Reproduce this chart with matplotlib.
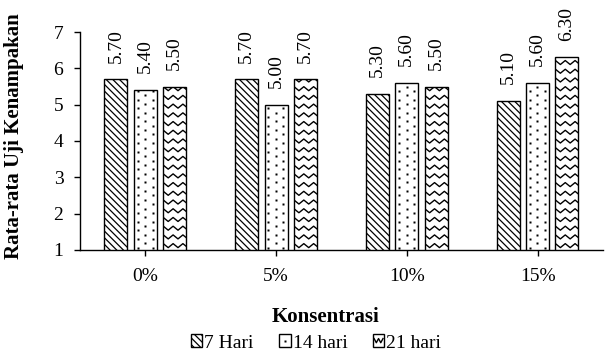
import matplotlib
matplotlib.use('Agg')
import matplotlib.pyplot as plt
import numpy as np
from matplotlib.patches import Rectangle
from matplotlib.lines import Line2D
from matplotlib.legend_handler import HandlerPatch

plt.rcParams['font.family'] = ['Liberation Serif', 'DejaVu Serif']
plt.rcParams['hatch.linewidth'] = 0.9

# Data
categories = ['0%', '5%', '10%', '15%']
series_names = ['7 Hari', '14 hari', '21 hari']
hari_7 = [5.70, 5.70, 5.30, 5.10]
hari_14 = [5.40, 5.00, 5.60, 5.60]
hari_21 = [5.50, 5.70, 5.50, 6.30]

fig = plt.figure(figsize=(6.09, 3.58), dpi=100)
ax = fig.add_axes([0.1314, 0.3017, 0.8586, 0.6089])

x = np.arange(len(categories))
width = 0.176
step = 0.225


def wave_lines(ax, x0, x1, y0, y1, clip, period=0.075, amp=0.055, gap=0.24):
    # zigzag fill drawn row by row, clipped to the bar outline
    xs = np.arange(x0 - period, x1 + period, period / 2)
    ys_off = np.where(np.arange(len(xs)) % 2 == 0, amp, -amp)
    yy = y0 + gap / 2
    while yy < y1 + gap:
        ln, = ax.plot(xs, yy + ys_off, color='black', lw=1.0)
        ln.set_clip_path(clip)
        yy += gap


def dot_fill(ax, x0, x1, y0, y1, clip, dx=0.057, dy=0.24):
    # staggered dot lattice, clipped to the bar outline
    pts_x, pts_y = [], []
    cols = np.arange(x0 + dx / 2, x1, dx)
    for i, cx in enumerate(cols):
        start = y0 + (dy / 4 if i % 2 == 0 else 3 * dy / 4)
        for cy in np.arange(start, y1, dy):
            pts_x.append(cx)
            pts_y.append(cy)
    m, = ax.plot(pts_x, pts_y, ls='none', marker='s', ms=2.0,
                 mfc='black', mec='none')
    m.set_clip_path(clip)


bars7 = ax.bar(x - step, hari_7, width, facecolor='white', edgecolor='black',
               linewidth=1.0, hatch='\\\\\\\\\\', label=series_names[0])
bars14 = ax.bar(x, hari_14, width, facecolor='white', edgecolor='black',
                linewidth=1.0, label=series_names[1])
bars21 = ax.bar(x + step, hari_21, width, facecolor='white', edgecolor='black',
                linewidth=1.0, label=series_names[2])

for b in bars14:
    dot_fill(ax, b.get_x(), b.get_x() + b.get_width(), 1.0, b.get_height(), b)
for b in bars21:
    wave_lines(ax, b.get_x(), b.get_x() + b.get_width(), 1.0, b.get_height(), b)

for bars, vals in [(bars7, hari_7), (bars14, hari_14), (bars21, hari_21)]:
    for b, v in zip(bars, vals):
        ax.annotate(f'{v:.2f}', (b.get_x() + b.get_width() / 2, v),
                    xytext=(0, 12), textcoords='offset points',
                    rotation=90, ha='center', va='bottom', fontsize=14)

ax.set_xlim(-0.5, 3.5)
ax.set_ylim(1, 7)
ax.set_yticks(range(1, 8))
ax.set_xticks(x)
ax.set_xticklabels(categories)
ax.tick_params(axis='both', labelsize=14, direction='out', length=4, width=1)
ax.tick_params(axis='x', pad=9)
ax.tick_params(axis='y', pad=8)
ax.spines['top'].set_visible(False)
ax.spines['right'].set_visible(False)
for s in ['left', 'bottom']:
    ax.spines[s].set_linewidth(1.0)

fig.text(14 / 609, 0.619, 'Rata-rata Uji Kenampakan', rotation=90,
         ha='center', va='center', fontsize=15, fontweight='bold')
fig.text(325 / 609, 1 - 317 / 358, 'Konsentrasi', ha='center', va='center',
         fontsize=15, fontweight='bold')


class DotHandler(HandlerPatch):
    def create_artists(self, legend, orig_handle, xdescent, ydescent,
                       width, height, fontsize, trans):
        rect = Rectangle((-xdescent, -ydescent), width, height,
                         facecolor='white', edgecolor='black', lw=1.0,
                         transform=trans)
        dot = Line2D([-xdescent + width / 2], [-ydescent + height / 2],
                     ls='none', marker='s', ms=1.8, mfc='black', mec='none',
                     transform=trans)
        return [rect, dot]


class WaveHandler(HandlerPatch):
    def create_artists(self, legend, orig_handle, xdescent, ydescent,
                       width, height, fontsize, trans):
        rect = Rectangle((-xdescent, -ydescent), width, height,
                         facecolor='white', edgecolor='black', lw=1.0,
                         transform=trans)
        xs = np.linspace(-xdescent + 1, -xdescent + width - 1, 5)
        ys = -ydescent + height / 2 + np.where(np.arange(5) % 2 == 0, 1.5, -1.5)
        ln = Line2D(xs, ys, color='black', lw=1.0, transform=trans)
        return [rect, ln]


fig.legend(handles=[bars7, bars14[0], bars21[0]], labels=series_names,
           loc='center', bbox_to_anchor=(316 / 609, 1 - 343 / 358),
           ncol=3, frameon=False, fontsize=14, handlelength=0.6,
           handleheight=0.6, handletextpad=0.1, columnspacing=1.3,
           handler_map={bars14[0]: DotHandler(), bars21[0]: WaveHandler()})

fig.savefig('out.png', dpi=100, facecolor='white')
